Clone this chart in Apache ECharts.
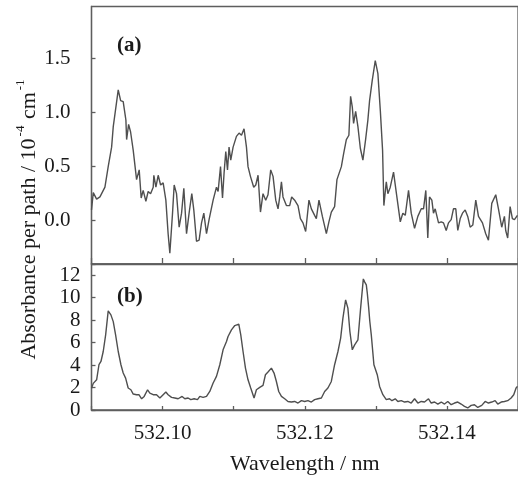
<!DOCTYPE html>
<html>
<head>
<meta charset="utf-8">
<script src="https://cdn.jsdelivr.net/npm/echarts@6/dist/echarts.min.js"></script>
<style>
html,body{margin:0;padding:0;background:#fff;}
#chart{width:518px;height:484px;}
</style>
</head>
<body>
<div id="chart"></div>
<script>
// Panel (a): absorbance per path (10^-4 cm^-1)
var topWave = [532.09000,532.09025,532.09072,532.09119,532.09189,532.09235,532.09283,532.09306,532.09329,532.09376,532.09410,532.09446,532.09484,532.09494,532.09522,532.09550,532.09587,532.09634,532.09671,532.09699,532.09727,532.09765,532.09797,532.09831,532.09868,532.09877,532.09906,532.09938,532.09972,532.10008,532.10046,532.10078,532.10102,532.10140,532.10163,532.10196,532.10233,532.10267,532.10299,532.10337,532.10373,532.10411,532.10439,532.10477,532.10514,532.10548,532.10580,532.10618,532.10654,532.10711,532.10758,532.10781,532.10815,532.10843,532.10865,532.10889,532.10913,532.10935,532.10959,532.10992,532.11039,532.11076,532.11110,532.11146,532.11180,532.11202,532.11236,532.11282,532.11311,532.11343,532.11377,532.11413,532.11451,532.11483,532.11521,532.11554,532.11592,532.11624,532.11648,532.11672,532.11694,532.11742,532.11788,532.11816,532.11858,532.11905,532.11939,532.11975,532.12013,532.12059,532.12093,532.12139,532.12163,532.12200,532.12248,532.12304,532.12340,532.12374,532.12420,532.12453,532.12515,532.12547,532.12585,532.12621,532.12645,532.12669,532.12687,532.12716,532.12748,532.12782,532.12818,532.12856,532.12888,532.12912,532.12950,532.12992,532.13029,532.13063,532.13095,532.13113,532.13147,532.13169,532.13203,532.13249,532.13296,532.13344,532.13380,532.13414,532.13460,532.13498,532.13545,532.13591,532.13639,532.13671,532.13703,532.13731,532.13755,532.13788,532.13811,532.13835,532.13882,532.13920,532.13952,532.13990,532.14022,532.14060,532.14092,532.14125,532.14153,532.14187,532.14219,532.14257,532.14293,532.14327,532.14364,532.14406,532.14444,532.14500,532.14546,532.14584,532.14631,532.14687,532.14725,532.14771,532.14809,532.14827,532.14855,532.14889,532.14921,532.14950,532.14992];
var topAbs = [0.10,0.26,0.20,0.22,0.31,0.50,0.68,0.87,0.98,1.21,1.11,1.10,0.93,0.75,0.89,0.82,0.65,0.38,0.47,0.21,0.28,0.18,0.27,0.25,0.31,0.42,0.31,0.42,0.33,0.35,0.19,-0.12,-0.30,0.07,0.33,0.25,-0.06,0.07,0.30,-0.12,0.07,0.25,0.10,-0.19,-0.18,-0.02,0.07,-0.12,0.01,0.19,0.31,0.27,0.50,0.21,0.44,0.64,0.47,0.68,0.56,0.68,0.78,0.81,0.79,0.85,0.68,0.50,0.41,0.31,0.33,0.42,0.08,0.25,0.19,0.24,0.47,0.41,0.19,0.11,0.22,0.36,0.22,0.14,0.14,0.22,0.19,0.14,0.02,-0.02,-0.10,0.19,0.11,0.05,0.02,0.19,0.04,-0.12,-0.01,0.08,0.13,0.38,0.50,0.62,0.75,0.79,1.15,1.05,0.90,1.01,0.87,0.67,0.56,0.75,0.93,1.11,1.30,1.48,1.36,1.02,0.65,0.14,0.36,0.25,0.31,0.45,0.22,-0.01,0.07,0.05,0.28,0.07,-0.07,0.04,0.11,0.11,0.28,-0.16,0.22,0.19,0.07,0.11,-0.02,-0.01,-0.02,-0.09,-0.02,0.01,0.11,0.11,-0.09,0.02,0.07,0.10,0.04,-0.06,-0.04,0.19,0.04,-0.02,-0.12,-0.18,0.16,0.24,0.11,-0.06,0.04,-0.09,-0.16,0.13,0.02,0.01,0.05];

// Panel (b)
var botWave = [532.09000,532.09025,532.09072,532.09105,532.09133,532.09165,532.09199,532.09235,532.09273,532.09306,532.09339,532.09376,532.09414,532.09446,532.09480,532.09516,532.09554,532.09587,532.09634,532.09667,532.09705,532.09741,532.09789,532.09821,532.09868,532.09915,532.09962,532.10008,532.10046,532.10078,532.10126,532.10172,532.10219,532.10275,532.10313,532.10359,532.10397,532.10444,532.10491,532.10524,532.10570,532.10618,532.10664,532.10711,532.10758,532.10805,532.10851,532.10899,532.10921,532.10969,532.11016,532.11072,532.11100,532.11132,532.11166,532.11202,532.11240,532.11287,532.11320,532.11367,532.11413,532.11447,532.11483,532.11531,532.11568,532.11601,532.11634,532.11672,532.11718,532.11764,532.11812,532.11858,532.11905,532.11953,532.11999,532.12045,532.12093,532.12139,532.12186,532.12234,532.12280,532.12326,532.12374,532.12420,532.12467,532.12505,532.12537,532.12575,532.12607,532.12635,532.12669,532.12702,532.12748,532.12786,532.12824,532.12842,532.12866,532.12880,532.12898,532.12915,532.12936,532.12973,532.13020,532.13053,532.13099,532.13147,532.13193,532.13226,532.13273,532.13310,532.13358,532.13404,532.13450,532.13498,532.13545,532.13591,532.13639,532.13685,532.13741,532.13779,532.13826,532.13872,532.13920,532.13966,532.14012,532.14060,532.14107,532.14153,532.14200,532.14247,532.14293,532.14341,532.14388,532.14434,532.14490,532.14538,532.14584,532.14631,532.14678,532.14715,532.14763,532.14809,532.14855,532.14903,532.14940,532.14973,532.14992];
var botAbs = [1.93,2.37,2.69,4.03,4.32,5.21,6.69,8.82,8.47,7.87,6.69,5.21,4.03,3.29,2.84,1.96,1.80,1.42,1.36,1.36,1.00,1.21,1.80,1.51,1.36,1.36,1.07,1.36,1.60,1.36,1.12,1.07,1.00,1.21,1.00,1.07,0.92,1.00,0.92,1.21,1.12,1.21,1.65,2.40,2.99,4.03,5.36,6.10,6.54,7.14,7.52,7.64,6.69,5.21,3.73,2.69,1.96,1.07,1.80,2.01,2.19,3.14,3.38,3.73,3.29,2.54,1.65,1.21,1.00,0.76,0.71,0.76,0.62,0.83,0.76,0.83,0.71,0.92,1.00,1.07,1.65,1.96,2.54,4.03,5.21,6.40,8.18,9.80,9.07,6.99,5.36,5.80,6.25,9.07,11.67,11.41,11.14,10.40,9.20,7.90,6.69,4.03,3.14,2.10,1.36,0.92,1.00,0.83,1.00,0.76,0.83,0.71,0.76,0.62,1.00,0.62,0.76,0.71,1.00,0.62,0.71,0.53,0.71,0.53,0.76,0.47,0.62,0.71,0.53,0.32,0.18,0.41,0.47,0.23,0.41,0.76,0.62,0.71,0.83,0.53,0.71,0.76,0.83,1.07,1.36,1.96,2.10];

var xLabels = [532.10, 532.12, 532.14];
var topYTicks = [0, 0.5, 1.0, 1.5];
var botYTicks = [0, 2, 4, 6, 8, 10, 12];

function pairs(xs, ys) { return xs.map(function (x, i) { return [x, ys[i]]; }); }

var FONT = 'Liberation Serif';
var AX = '#5e5e5e';
var TXT = '#1a1a1a';
var LINE = '#4f4f4f';

var axLine = {show: true, onZero: false, lineStyle: {color: AX, width: 1.3}};

var chart = echarts.init(document.getElementById('chart'), null, {renderer: 'canvas'});
chart.setOption({
  animation: false,
  backgroundColor: '#fff',
  grid: [
    {left: 91.5, top: 6.5, width: 427, height: 257.5, show: true, borderColor: AX, borderWidth: 1.3, backgroundColor: 'transparent'},
    {left: 91.5, top: 264, width: 427, height: 146, show: true, borderColor: AX, borderWidth: 1.3, backgroundColor: 'transparent'}
  ],
  xAxis: [
    {type: 'value', gridIndex: 0, min: 532.09, max: 532.15, interval: 0.01, position: 'bottom',
     axisLine: axLine, splitLine: {show: false},
     axisTick: {show: true, inside: true, length: 6, lineStyle: {color: AX, width: 1.3}},
     axisLabel: {show: false}},
    {type: 'value', gridIndex: 1, min: 532.09, max: 532.15, interval: 0.01, position: 'bottom',
     axisLine: axLine, splitLine: {show: false},
     axisTick: {show: true, inside: true, length: 4, lineStyle: {color: AX, width: 1.3}},
     axisLabel: {show: true, margin: 13, fontFamily: FONT, fontSize: 21, color: TXT, customValues: xLabels,
       formatter: function (v) { return Number(v).toFixed(2); }},
     name: 'Wavelength / nm', nameLocation: 'middle', nameGap: 43,
     nameTextStyle: {fontFamily: FONT, fontSize: 22, color: TXT}}
  ],
  yAxis: [
    {type: 'value', gridIndex: 0, min: -0.4, max: 1.98, position: 'left',
     axisLine: axLine, splitLine: {show: false},
     axisTick: {show: true, inside: true, length: 4, customValues: topYTicks, lineStyle: {color: AX, width: 1.3}},
     axisLabel: {show: true, margin: 21, fontFamily: FONT, fontSize: 21, color: TXT, customValues: topYTicks,
       formatter: function (v) { return Number(v).toFixed(1); }}},
    {type: 'value', gridIndex: 1, min: 0, max: 13, interval: 2, position: 'left',
     axisLine: axLine, splitLine: {show: false},
     axisTick: {show: true, inside: true, length: 4, lineStyle: {color: AX, width: 1.3}},
     axisLabel: {show: true, margin: 11, fontFamily: FONT, fontSize: 21, color: TXT,
       formatter: function (v) { return botYTicks.indexOf(v) >= 0 ? String(v) : ''; }}}
  ],
  series: [
    {type: 'line', xAxisIndex: 0, yAxisIndex: 0, data: pairs(topWave, topAbs), showSymbol: false,
     clip: true, lineStyle: {color: LINE, width: 1.4}},
    {type: 'line', xAxisIndex: 1, yAxisIndex: 1, data: pairs(botWave, botAbs), showSymbol: false,
     clip: true, lineStyle: {color: LINE, width: 1.4}}
  ],
  graphic: [
    {type: 'text', left: 117, top: 35, style: {text: '(a)', font: 'bold 21px "Liberation Serif"', fill: TXT}},
    {type: 'text', left: 117, top: 286, style: {text: '(b)', font: 'bold 21px "Liberation Serif"', fill: TXT}},
    {type: 'text', x: 27, y: 219, rotation: Math.PI / 2,
     style: {
       text: '{n|Absorbance per path / 10}{s|-4}{n| cm}{s|-1}',
       align: 'center', verticalAlign: 'middle', fill: TXT,
       rich: {
         n: {fontFamily: FONT, fontSize: 22, lineHeight: 26, verticalAlign: 'bottom', fill: TXT},
         s: {fontFamily: FONT, fontSize: 13, lineHeight: 26, verticalAlign: 'top', fill: TXT, padding: [0, 1, 0, 2]}
       }
     }}
  ]
});
</script>
</body>
</html>
